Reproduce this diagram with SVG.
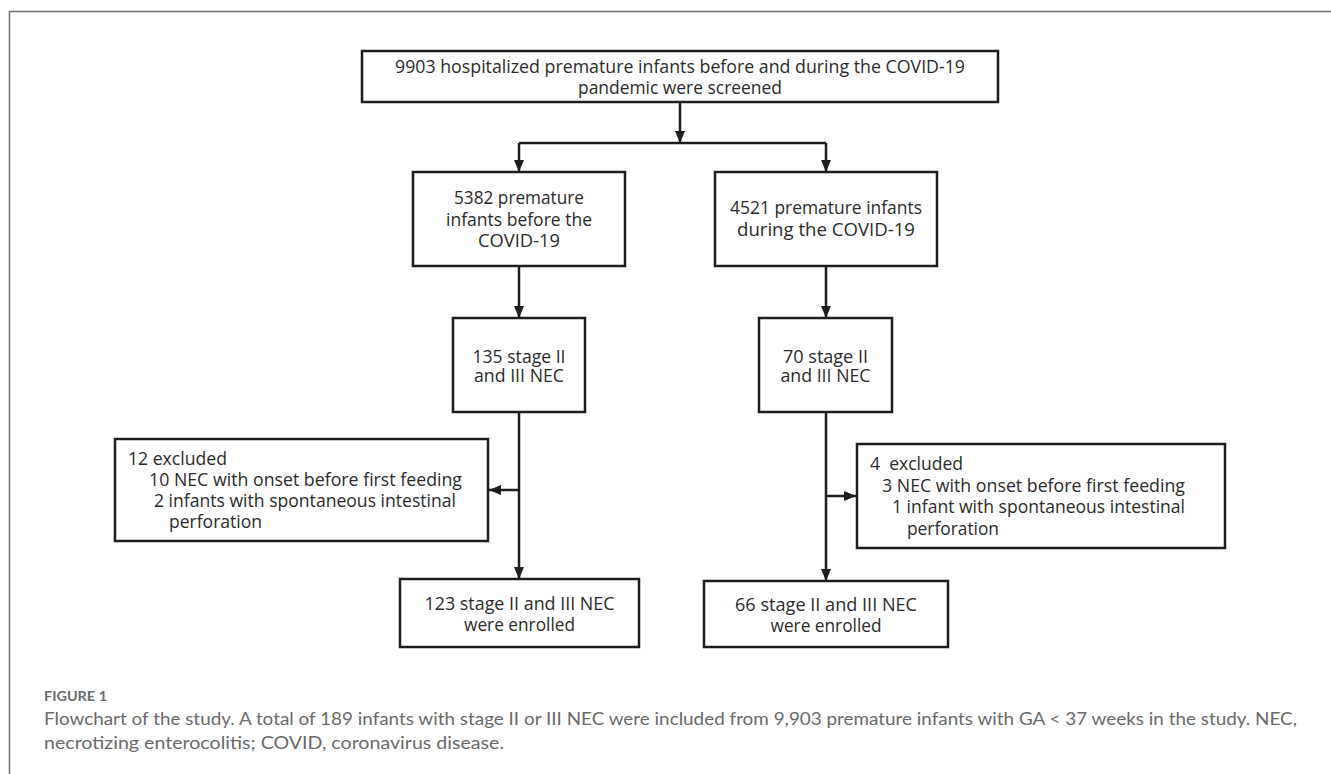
<svg xmlns="http://www.w3.org/2000/svg" width="1331" height="774" viewBox="0 0 1331 774">
<defs>
<marker id="arr" markerUnits="userSpaceOnUse" viewBox="0 0 12 10" refX="12" refY="5" markerWidth="12" markerHeight="10" orient="auto">
<path d="M0,0 L12,5 L0,10 z" fill="#1e1e1e"/>
</marker>
<style>
.box{fill:#fff;stroke:#1e1e1e;stroke-width:2.5}
.t{font-family:"Open Sans","Noto Sans",sans-serif;font-size:18px;fill:#2b2b2b}
.c{text-anchor:middle}
.ln{fill:none;stroke:#1e1e1e;stroke-width:2.5}
.cap{font-family:Lato,"Open Sans",sans-serif;fill:#6a6a6a}
</style>
</defs>
<rect width="1331" height="774" fill="#fff"/>
<path d="M9.5,774 V11.5 H1331" fill="none" stroke="#6e6e6e" stroke-width="1.5"/>

<g id="connectors">
<path class="ln" d="M680,102 V143" marker-end="url(#arr)"/>
<path class="ln" d="M519,143 H826"/>
<path class="ln" d="M519,143 V172" marker-end="url(#arr)"/>
<path class="ln" d="M826,143 V172" marker-end="url(#arr)"/>
<path class="ln" d="M519,266 V318" marker-end="url(#arr)"/>
<path class="ln" d="M826,266 V318" marker-end="url(#arr)"/>
<path class="ln" d="M519,412 V579" marker-end="url(#arr)"/>
<path class="ln" d="M519,490 H489" marker-end="url(#arr)"/>
<path class="ln" d="M826,412 V581" marker-end="url(#arr)"/>
<path class="ln" d="M826,496 H856" marker-end="url(#arr)"/>
</g>

<g id="screened">
<rect class="box" x="362" y="51" width="636" height="51" stroke-width="3"/>
<text class="t c" x="680" y="73" textLength="570" lengthAdjust="spacingAndGlyphs">9903 hospitalized premature infants before and during the COVID-19</text>
<text class="t c" x="680" y="94" textLength="204" lengthAdjust="spacingAndGlyphs">pandemic were screened</text>
</g>

<g id="before">
<rect class="box" x="413" y="172" width="212" height="94"/>
<text class="t c" x="519" y="204" textLength="130" lengthAdjust="spacingAndGlyphs">5382 premature</text>
<text class="t c" x="519" y="226" textLength="146" lengthAdjust="spacingAndGlyphs">infants before the</text>
<text class="t c" x="519" y="247" textLength="82" lengthAdjust="spacingAndGlyphs">COVID-19</text>
</g>

<g id="during">
<rect class="box" x="715" y="172" width="222" height="94"/>
<text class="t c" x="826" y="214" textLength="192" lengthAdjust="spacingAndGlyphs">4521 premature infants</text>
<text class="t c" x="826" y="236" textLength="178" lengthAdjust="spacingAndGlyphs">during the COVID-19</text>
</g>

<g id="nec-before">
<rect class="box" x="453" y="318" width="132" height="94"/>
<text class="t c" x="519" y="363" textLength="93" lengthAdjust="spacingAndGlyphs">135 stage II</text>
<text class="t c" x="519" y="382" textLength="90" lengthAdjust="spacingAndGlyphs">and III NEC</text>
</g>

<g id="nec-during">
<rect class="box" x="759" y="318" width="133" height="94"/>
<text class="t c" x="825.5" y="363" textLength="85" lengthAdjust="spacingAndGlyphs">70 stage II</text>
<text class="t c" x="825.5" y="382" textLength="90" lengthAdjust="spacingAndGlyphs">and III NEC</text>
</g>

<g id="excluded-before">
<rect class="box" x="115" y="439" width="373" height="102"/>
<text class="t" x="128" y="465" textLength="99" lengthAdjust="spacingAndGlyphs">12 excluded</text>
<text class="t" x="149" y="486" textLength="313" lengthAdjust="spacingAndGlyphs">10 NEC with onset before first feeding</text>
<text class="t" x="154" y="507" textLength="302" lengthAdjust="spacingAndGlyphs">2 infants with spontaneous intestinal</text>
<text class="t" x="169" y="528" textLength="93" lengthAdjust="spacingAndGlyphs">perforation</text>
</g>

<g id="excluded-during">
<rect class="box" x="857" y="444" width="368" height="104"/>
<text class="t" x="870" y="470" textLength="93" lengthAdjust="spacingAndGlyphs" xml:space="preserve">4  excluded</text>
<text class="t" x="882" y="492" textLength="303" lengthAdjust="spacingAndGlyphs">3 NEC with onset before first feeding</text>
<text class="t" x="892" y="513" textLength="293" lengthAdjust="spacingAndGlyphs">1 infant with spontaneous intestinal</text>
<text class="t" x="907" y="535" textLength="92" lengthAdjust="spacingAndGlyphs">perforation</text>
</g>

<g id="enrolled-before">
<rect class="box" x="400" y="579" width="239" height="68"/>
<text class="t c" x="519.5" y="610" textLength="190" lengthAdjust="spacingAndGlyphs">123 stage II and III NEC</text>
<text class="t c" x="519.5" y="631" textLength="111" lengthAdjust="spacingAndGlyphs">were enrolled</text>
</g>

<g id="enrolled-during">
<rect class="box" x="704" y="581" width="244" height="66"/>
<text class="t c" x="826" y="611" textLength="182" lengthAdjust="spacingAndGlyphs">66 stage II and III NEC</text>
<text class="t c" x="826" y="632" textLength="111" lengthAdjust="spacingAndGlyphs">were enrolled</text>
</g>

<g id="caption">
<text class="cap" x="44" y="701" font-size="14" font-weight="bold" textLength="63" lengthAdjust="spacingAndGlyphs">FIGURE 1</text>
<text class="cap" x="44" y="725" font-size="18" textLength="1253" lengthAdjust="spacingAndGlyphs">Flowchart of the study. A total of 189 infants with stage II or III NEC were included from 9,903 premature infants with GA &lt; 37 weeks in the study. NEC,</text>
<text class="cap" x="44" y="749" font-size="18" textLength="460" lengthAdjust="spacingAndGlyphs">necrotizing enterocolitis; COVID, coronavirus disease.</text>
</g>
</svg>
